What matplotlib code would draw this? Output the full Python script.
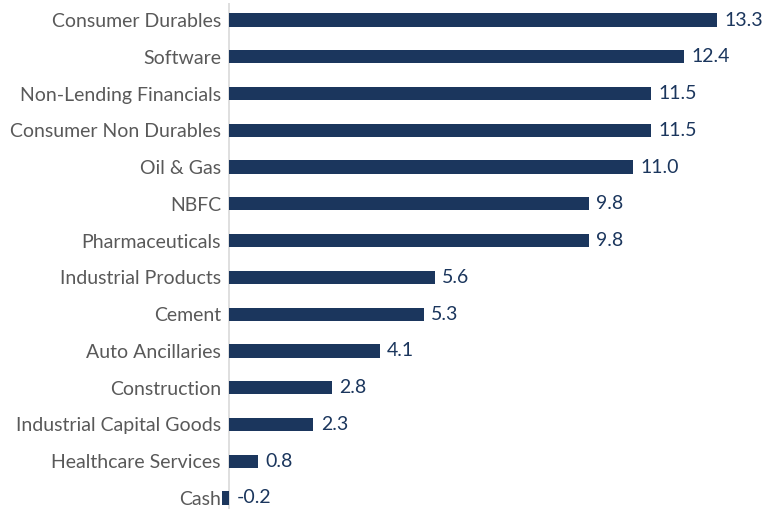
import matplotlib
matplotlib.use("Agg")
import matplotlib.pyplot as plt
import numpy as np

# ───────────────────────── Data ─────────────────────────
sectors = [
    "Consumer Durables", "Software", "Non-Lending Financials", "Consumer Non Durables",
    "Oil & Gas", "NBFC", "Pharmaceuticals", "Industrial Products", "Cement",
    "Auto Ancillaries", "Construction", "Industrial Capital Goods",
    "Healthcare Services", "Cash",
]
weights = [13.3, 12.4, 11.5, 11.5, 11.0, 9.8, 9.8, 5.6, 5.3, 4.1, 2.8, 2.3, 0.8, -0.2]

bar_color = "#1b365d"
label_color = "#595959"

plt.rcParams["font.family"] = ["Lato", "DejaVu Sans"]

# axes placed so that x=0 sits at ~229 px and one unit is ~36.7 px
fig = plt.figure(figsize=(7.63, 5.09), dpi=100)
ax = fig.add_axes([0.2895, 0.0, 0.7085, 0.9932])

y_pos = np.arange(len(sectors))[::-1]
ax.barh(y_pos, weights, height=0.36, color=bar_color)

for y, v in zip(y_pos, weights):
    x = max(v, 0) + 0.2
    ax.text(x, y, f"{v:.1f}", va="center", ha="left", fontsize=14, color=bar_color)

ax.set_yticks(y_pos)
ax.set_yticklabels(sectors, fontsize=14, color=label_color)
ax.tick_params(axis="y", length=0, pad=0)
ax.set_xticks([])
ax.set_xlim(-0.22, 14.5)
ax.set_ylim(-0.3, 13.45)

for s in ["top", "right", "bottom", "left"]:
    ax.spines[s].set_visible(False)
ax.axvline(0, color="#d9d9d9", linewidth=1.2, zorder=0)

fig.savefig("out.png", dpi=100)
